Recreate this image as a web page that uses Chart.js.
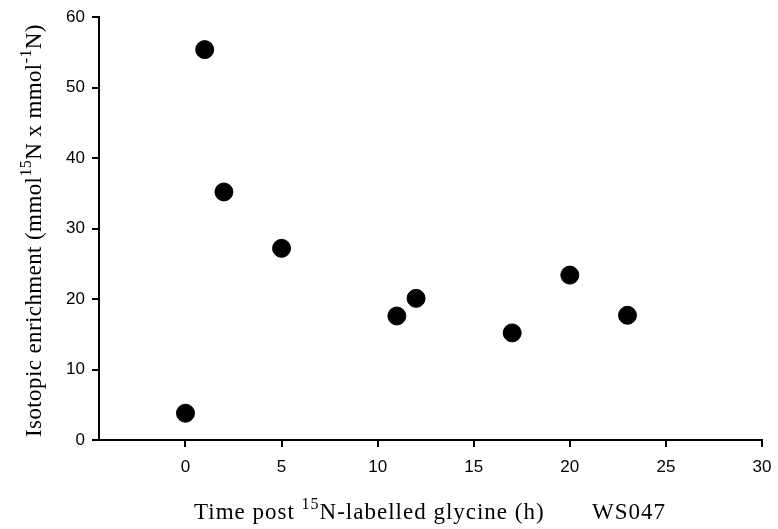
<!DOCTYPE html>
<html>
<head>
<meta charset="utf-8">
<script src="https://cdn.jsdelivr.net/npm/chart.js@4.4.0/dist/chart.umd.min.js"></script>
<style>
  html, body { margin: 0; padding: 0; background: #fff; }
  #wrap { width: 778px; height: 529px; }
</style>
</head>
<body>
<div id="wrap"><canvas id="scatter"></canvas></div>
<script>
// data
const hours = [0, 1, 2, 5, 11, 12, 17, 20, 23];
const enrichment = [3.8, 55.4, 35.2, 27.2, 17.6, 20.1, 15.2, 23.4, 17.7];
const xTicks = [0, 5, 10, 15, 20, 25, 30];
const yTicks = [0, 10, 20, 30, 40, 50, 60];

// axis titles have superscripts, so draw them by hand
const xTitle = [["Time post ", false], ["15", true], ["N-labelled glycine (h)", false]];
const xTag = "WS047";
const yTitle = [["Isotopic enrichment (mmol", false], ["15", true], ["N x mmol", false], ["-1", true], ["N)", false]];

function drawParts(ctx, parts, x, y, spacing) {
  ctx.letterSpacing = spacing + "px";
  for (const [txt, sup] of parts) {
    ctx.font = sup ? "16px 'Liberation Serif'" : "23px 'Liberation Serif'";
    ctx.fillText(txt, x, sup ? y - 10 : y);
    x += ctx.measureText(txt).width;
  }
  ctx.letterSpacing = "0px";
  return x;
}

const titlePlugin = {
  id: "titles",
  afterDraw(chart) {
    const ctx = chart.ctx;
    ctx.save();
    ctx.fillStyle = "#000";
    ctx.textBaseline = "alphabetic";
    ctx.textAlign = "left";
    drawParts(ctx, xTitle, 194, 519, 1);
    ctx.font = "23px 'Liberation Serif'";
    ctx.letterSpacing = "1px";
    ctx.fillText(xTag, 592, 519);
    ctx.letterSpacing = "0px";

    ctx.translate(41, 437);
    ctx.rotate(-Math.PI / 2);
    drawParts(ctx, yTitle, 0, 0, 0.4);
    ctx.restore();
  }
};

const ctx = document.getElementById("scatter");

new Chart(ctx, {
  type: "scatter",
  data: {
    datasets: [
      {
        label: "WS047",
        data: hours.map((h, i) => ({ x: h, y: enrichment[i] })),
        backgroundColor: "#000",
        borderColor: "#000",
        pointRadius: 9,
        pointHoverRadius: 9,
      },
    ],
  },
  options: {
    responsive: true,
    maintainAspectRatio: false,
    animation: false,
    layout: { padding: { top: 17, right: 16, left: 0, bottom: 0 } },
    plugins: {
      legend: { display: false },
      tooltip: { enabled: false },
    },
    scales: {
      x: {
        type: "linear",
        min: -4.5,
        max: 30,
        afterBuildTicks: (scale) => {
          scale.ticks = xTicks.map((v) => ({ value: v }));
        },
        afterFit: (scale) => {
          scale.height = 89;
          scale.paddingRight = 0;
        },
        border: { display: true, color: "#000", width: 2 },
        grid: { drawOnChartArea: false, drawTicks: true, tickLength: 7, color: "#000", lineWidth: 2 },
        ticks: {
          color: "#000",
          padding: 10,
          font: { family: "'Liberation Sans', Arial", size: 17 },
        },
      },
      y: {
        min: 0,
        max: 60,
        afterBuildTicks: (scale) => {
          scale.ticks = yTicks.map((v) => ({ value: v }));
        },
        afterFit: (scale) => {
          scale.width = 99;
        },
        border: { display: true, color: "#000", width: 2 },
        grid: { drawOnChartArea: false, drawTicks: true, tickLength: 7, color: "#000", lineWidth: 2 },
        ticks: {
          color: "#000",
          padding: 7,
          font: { family: "'Liberation Sans', Arial", size: 17 },
        },
      },
    },
  },
  plugins: [titlePlugin],
});
</script>
</body>
</html>
